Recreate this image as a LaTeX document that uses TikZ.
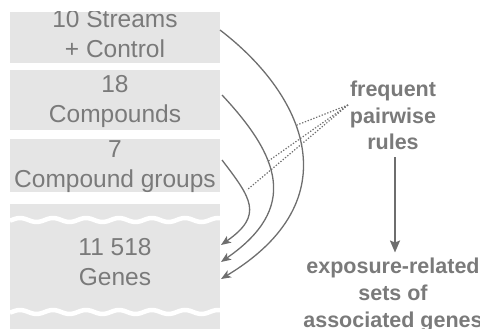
\documentclass[tikz,border=0pt]{standalone}
\usepackage{fontspec}
\setmainfont{Liberation Sans}
\usetikzlibrary{arrows.meta}
\definecolor{boxfill}{HTML}{E5E5E5}
\definecolor{txtgray}{HTML}{7A7A7A}
\definecolor{linegray}{HTML}{6E6E6E}
\begin{document}
\begin{tikzpicture}[x=1pt,y=-1pt,
  box/.style={fill=boxfill, draw=none, minimum width=210pt, inner sep=0pt, outer sep=0pt},
  lbl/.style={text=txtgray, font=\fontsize{24.5}{30}\selectfont, align=center, inner sep=0pt},
  rtxt/.style={text=txtgray, font=\bfseries\fontsize{21.5}{26.5}\selectfont, align=center, inner sep=0pt},
  arcline/.style={draw=linegray, line width=1.3pt, -{Stealth[length=10pt,width=8pt,inset=2.5pt]}},
  rulelink/.style={draw=linegray, line width=1.2pt, dash pattern=on 1.3pt off 1.7pt},
  wave/.style={draw=white, line width=4.5pt}]
\useasboundingbox (0,0) rectangle (480,329);

% boxes
\node[box, minimum height=51pt] (box1) at (115,37.5) {};
\node[box, minimum height=60pt] (box2) at (115,100) {};
\node[box, minimum height=53pt] (box3) at (115,165.5) {};
\node[box, minimum height=125pt] (genes) at (115,266.5) {};

% box labels (clipped to their boxes)
\begin{scope}
\clip (box1.south west) rectangle (box1.north east);
\node[lbl] (t1) at (115,34.3) {10 Streams\\+ Control};
\end{scope}
\begin{scope}
\clip (box2.south west) rectangle (box2.north east);
\node[lbl] (t2) at (115,101.9) {18\\Compounds};
\end{scope}
\begin{scope}
\clip (box3.south west) rectangle (box3.north east);
\node[lbl] (t3) at (115,166.9) {7\\Compound groups};
\end{scope}

% wavy cuts in the genes box
\draw[wave] plot[domain=10:220, samples=90, smooth] (\x, {220 - 2*cos(10.909*(\x-20))});
\draw[wave] plot[domain=10:220, samples=90, smooth] (\x, {312 - 2*cos(10.909*(\x-20))});
\node[lbl] (t4) at (115,261.8) {11 518\\Genes};

% right texts
\node[rtxt] (freq) at (393,115.8) {frequent\\pairwise\\rules};
\node[rtxt, font=\bfseries\fontsize{21.5}{27}\selectfont] (expo) at (393,294.5) {exposure-related\\sets of\\associated genes};

% arcs
\coordinate (s1) at ([yshift=7.5pt]box1.east);
\coordinate (s2) at ([xshift=2pt,yshift=5pt]box2.east);
\coordinate (s3) at ([xshift=2pt,yshift=5.5pt]box3.east);
\coordinate (e1) at ([xshift=1pt,yshift=-12.5pt]genes.east);
\coordinate (e2) at ([xshift=1pt,yshift=4.5pt]genes.east);
\coordinate (e3) at ([xshift=1pt,yshift=21.5pt]genes.east);
\draw[arcline] (s1) .. controls (305,95) and (352,200) .. (e1);
\draw[arcline] (s2) .. controls (280,157) and (299,208) .. (e2);
\draw[arcline] (s3) .. controls (251,198) and (264,215) .. (e3);

% dotted rule links
\coordinate (rc) at (348,105);
\coordinate (m1) at (297,125);
\coordinate (m2) at (267,162);
\coordinate (m3) at (247,190);
\draw[rulelink] (rc) -- (m1);
\draw[rulelink] (rc) -- (m2);
\draw[rulelink] (rc) -- (m3);

% vertical arrow
\draw[draw=linegray, line width=1.8pt, -{Stealth[length=12pt,width=10pt,inset=2pt]}]
  ([xshift=2pt,yshift=-7pt]freq.south) -- ([xshift=2pt,yshift=4.7pt]expo.north);
\end{tikzpicture}
\end{document}
